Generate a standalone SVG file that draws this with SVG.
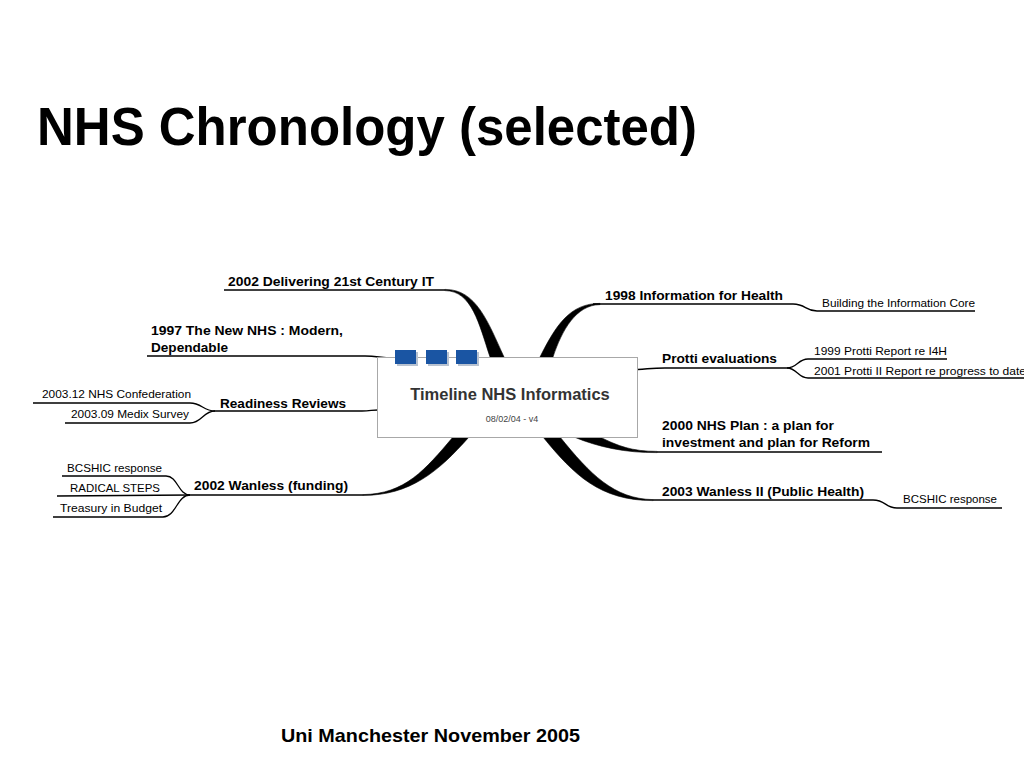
<svg xmlns="http://www.w3.org/2000/svg" width="1024" height="768" viewBox="0 0 1024 768">
<style>
text{font-family:"Liberation Sans",Arial,Helvetica,sans-serif;fill:#000}
.title{font-size:53px;font-weight:bold}
.foot{font-size:19px;font-weight:bold}
.main{font-size:13.5px;font-weight:bold}
.sub{font-size:11.5px}
.ln{fill:none;stroke:#000;stroke-width:1.3}
.tp{fill:#000;stroke:#000;stroke-width:0.6}
.sq{fill:#1a55a3}
.sh{fill:#b8c2d0}
</style>
<rect width="1024" height="768" fill="#fff"/>
<text class="title" x="37" y="145" textLength="660" lengthAdjust="spacingAndGlyphs">NHS Chronology (selected)</text>
<g id="connectors">
  <path class="ln" d="M224,290 L445,290"/>
  <path class="tp" d="M445,289.4 C476,289 488,322 504,357 L490,357 C479,324 472,290.8 445,290.6 Z"/>
  <path class="tp" d="M540,357 C556,325 570,303.4 600,303.4 L600,304.6 C576,305 562,330 553,357 Z"/>
  <path class="ln" d="M593,304 L793,304 C806,304 805,311 817,311 L975,311"/>
  <path class="ln" d="M147,356 L365,356 C378,356 380,358 393,358" style="stroke-width:1.5"/>
  <path class="ln" d="M215,411 L362,411 C370,411 372,410 378,410"/>
  <path class="ln" d="M33,403 L190,403 C202,403 203,411 215,411"/>
  <path class="ln" d="M65,423 L190,423 C202,423 203,411 215,411"/>
  <path class="ln" d="M190,495 L363,495"/>
  <path class="tp" d="M363,494.6 C405,494 425,470 453,437 L469,437 C438,472 410,495.4 363,495.4 Z"/>
  <path class="ln" d="M62,476 L166,476 C178,476 178,495 190,495"/>
  <path class="ln" d="M57,496 L190,495"/>
  <path class="ln" d="M53,517 L163,517 C176,517 177,495 190,495"/>
  <path class="ln" d="M638,369.5 C648,369 652,368 665,368 L787,368" style="stroke-width:1.5"/>
  <path class="ln" d="M787,368 C797,368 798,359 808,359 L947,359"/>
  <path class="ln" d="M787,368 C797,368 798,378 808,378 L1024,378"/>
  <path class="tp" d="M600,437 C618,446 632,451.4 657,451.4 L657,452.6 C626,453 598,447 574,437 Z"/>
  <path class="ln" d="M657,452 L882,452"/>
  <path class="tp" d="M543,437 C574,475 600,500.6 653,500.6 L653,499.6 C614,499 590,474 560,437 Z"/>
  <path class="ln" d="M653,500 L873,500 C886,500 885,508 897,508 L1002,508"/>
</g>
<g id="center">
  <rect x="377.5" y="357.5" width="260" height="80" fill="#fff" stroke="#a8a8a8" stroke-width="1"/>
  <rect class="sh" x="397" y="352" width="21" height="14"/>
  <rect class="sq" x="395" y="350" width="21" height="14"/>
  <rect class="sh" x="428" y="352" width="21" height="14"/>
  <rect class="sq" x="426" y="350" width="21" height="14"/>
  <rect class="sh" x="458" y="352" width="21" height="14"/>
  <rect class="sq" x="456" y="350" width="21" height="14"/>
  <text x="510" y="400" text-anchor="middle" style="font-size:16.5px;font-weight:bold;fill:#333">Timeline NHS Informatics</text>
  <text x="512" y="422" text-anchor="middle" style="font-size:9px;fill:#444">08/02/04 - v4</text>
</g>
<g id="n-2002-delivering"><text class="main" x="228" y="286" textLength="206" lengthAdjust="spacingAndGlyphs">2002 Delivering 21st Century IT</text></g>
<g id="n-1998"><text class="main" x="605" y="300" textLength="178" lengthAdjust="spacingAndGlyphs">1998 Information for Health</text></g>
<g id="n-building"><text class="sub" x="822" y="307" textLength="153" lengthAdjust="spacingAndGlyphs">Building the Information Core</text></g>
<g id="n-1997"><text class="main" x="151" y="335" textLength="192" lengthAdjust="spacingAndGlyphs">1997 The New NHS : Modern,</text><text class="main" x="151" y="352" textLength="77" lengthAdjust="spacingAndGlyphs">Dependable</text></g>
<g id="n-protti"><text class="main" x="662" y="363" textLength="115" lengthAdjust="spacingAndGlyphs">Protti evaluations</text></g>
<g id="n-protti1"><text class="sub" x="814" y="355" textLength="133" lengthAdjust="spacingAndGlyphs">1999 Protti Report re I4H</text></g>
<g id="n-protti2"><text class="sub" x="814" y="375" textLength="212" lengthAdjust="spacingAndGlyphs">2001 Protti II Report re progress to date</text></g>
<g id="n-readiness"><text class="main" x="220" y="408" textLength="126" lengthAdjust="spacingAndGlyphs">Readiness Reviews</text></g>
<g id="n-confed"><text class="sub" x="42" y="398" textLength="149" lengthAdjust="spacingAndGlyphs">2003.12 NHS Confederation</text></g>
<g id="n-medix"><text class="sub" x="71" y="418" textLength="118" lengthAdjust="spacingAndGlyphs">2003.09 Medix Survey</text></g>
<g id="n-wanless"><text class="main" x="194" y="490" textLength="154" lengthAdjust="spacingAndGlyphs">2002 Wanless (funding)</text></g>
<g id="n-bcshic1"><text class="sub" x="67" y="472" textLength="95" lengthAdjust="spacingAndGlyphs">BCSHIC response</text></g>
<g id="n-radical"><text class="sub" x="70" y="492" textLength="90" lengthAdjust="spacingAndGlyphs">RADICAL STEPS</text></g>
<g id="n-treasury"><text class="sub" x="60" y="512" textLength="102" lengthAdjust="spacingAndGlyphs">Treasury in Budget</text></g>
<g id="n-2000plan"><text class="main" x="662" y="430" textLength="172" lengthAdjust="spacingAndGlyphs">2000 NHS Plan : a plan for</text><text class="main" x="662" y="447" textLength="208" lengthAdjust="spacingAndGlyphs">investment and plan for Reform</text></g>
<g id="n-wanless2"><text class="main" x="662" y="496" textLength="202" lengthAdjust="spacingAndGlyphs">2003 Wanless II (Public Health)</text></g>
<g id="n-bcshic2"><text class="sub" x="903" y="503" textLength="94" lengthAdjust="spacingAndGlyphs">BCSHIC response</text></g>
<text class="foot" x="281" y="742" textLength="299" lengthAdjust="spacingAndGlyphs">Uni Manchester November 2005</text>
</svg>
